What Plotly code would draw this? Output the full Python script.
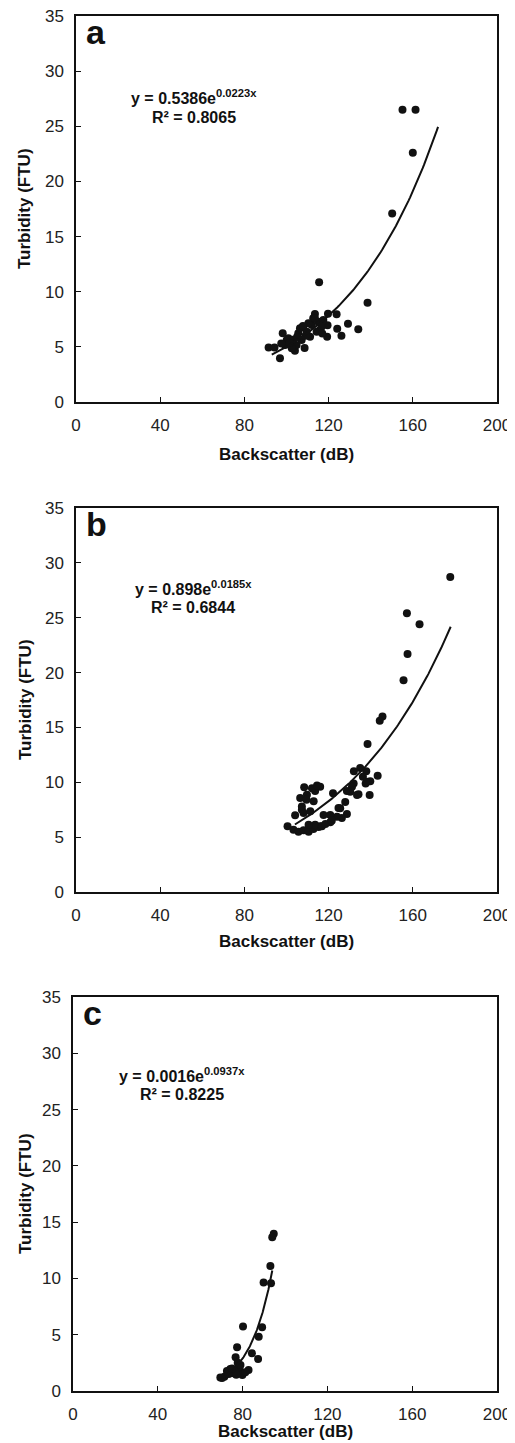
import numpy as np
import plotly.graph_objects as go

# the page puts the figure 8 px in from the top-left corner, so work in page pixels
PAD = 8
W, H = 507, 1435

# panel a
bs_a = [155.1, 161.3, 160.0, 150.2, 115.5, 138.5, 134.1, 129.2, 126.1, 124.1, 123.8, 119.7,
        119.5, 119.3, 113.5, 98.2, 91.5, 94.3, 96.9, 108.6, 104.0, 100.1, 101.7, 105.6,
        108.0, 109.6, 112.0, 112.7, 115.1, 115.9, 114.3, 111.2, 107.2, 104.8, 102.5, 99.3,
        100.9, 106.4, 110.4, 117.5, 116.7, 107.8, 103.0, 101.5, 113.5, 117.0, 109.0, 105.0, 97.5]
turb_a = [26.5, 26.5, 22.6, 17.1, 10.85, 9.0, 6.6, 7.1, 6.0, 6.65, 7.95, 8.0,
          6.95, 5.92, 7.98, 6.23, 4.95, 4.95, 3.96, 4.9, 4.65, 5.62, 5.32, 6.23,
          6.83, 6.38, 6.98, 7.59, 7.28, 6.53, 6.38, 5.92, 5.62, 5.17, 4.87, 5.17,
          5.77, 6.68, 7.13, 7.43, 6.83, 6.9, 5.65, 5.35, 7.6, 6.2, 6.0, 5.9, 5.3]

# panel b
bs_b = [177.8, 157.2, 163.2, 157.5, 155.6, 145.6, 144.3, 138.5, 143.3, 139.5, 139.8, 137.6,
        137.9, 135.0, 132.0, 134.2, 131.9, 130.3, 128.7, 127.9, 125.5, 128.7, 126.3, 124.0,
        124.7, 122.1, 120.8, 120.8, 117.6, 116.0, 116.0, 113.6, 112.1, 108.4, 109.7, 106.5,
        107.3, 108.1, 104.1, 111.3, 112.9, 100.5, 103.3, 105.7, 108.1, 110.5, 112.8, 115.2,
        113.6, 110.5, 116.8, 136.3, 133.5, 138.2, 131.1, 118.5, 121.5, 109.5, 107.3, 114.5]
turb_b = [28.7, 25.4, 24.4, 21.7, 19.3, 16.0, 15.6, 13.5, 10.6, 8.85, 10.1, 9.9,
          11.0, 11.3, 11.0, 8.9, 9.9, 9.14, 9.2, 8.2, 7.63, 7.1, 6.75, 6.86,
          7.66, 9.0, 7.02, 6.35, 7.02, 6.0, 9.6, 9.2, 9.45, 9.54, 8.87, 8.57,
          7.5, 7.2, 7.0, 7.35, 8.27, 5.99, 5.68, 5.5, 5.62, 5.5, 5.74, 5.93,
          6.14, 6.14, 6.0, 10.5, 8.84, 10.05, 9.6, 6.2, 6.5, 8.4, 7.8, 9.7]

# panel c
bs_c = [94.7, 94.0, 93.1, 89.9, 93.4, 89.2, 80.2, 87.6, 87.3, 84.4, 77.4, 76.7, 77.7,
        82.8, 79.9, 75.8, 74.2, 72.6, 71.4, 69.5, 70.3, 78.6, 81.3, 78.2, 76.5, 73.5,
        77.0, 79.0, 75.0]
turb_c = [13.96, 13.66, 11.1, 9.63, 9.57, 5.66, 5.72, 4.83, 2.85, 3.35, 3.88, 2.99, 2.52,
          1.87, 1.42, 1.57, 1.96, 1.78, 1.27, 1.19, 1.16, 1.87, 1.66, 2.16, 1.7, 1.5,
          1.45, 2.3, 2.0]

# exponential fits y = k*exp(r*x) as printed on the chart, and x span of each fit line
fit_k = [0.5386, 0.898, 0.0016]
fit_r = [0.0223, 0.0185, 0.0937]
fit_span = [(93, 172), (104, 178), (70, 94)]
eq_text = ["y = 0.5386e<sup>0.0223x</sup>", "y = 0.898e<sup>0.0185x</sup>", "y = 0.0016e<sup>0.0937x</sup>"]
r2_text = ["R² = 0.8065", "R² = 0.6844", "R² = 0.8225"]
panel_tag = ["a", "b", "c"]

xticks = [0, 40, 80, 120, 160, 200]
yticks = [0, 5, 10, 15, 20, 25, 30, 35]

# page-pixel boxes of each panel: left, right, top, bottom
boxes = [(76, 497, 16, 402), (76, 497, 508, 892), (73, 497, 997, 1391)]
xtitle_y = [454, 942, 1431]
eq_pos = [(194, 97, 117), (193, 588, 607), (182, 1075, 1094)]

FONT = "Arial, Liberation Sans, sans-serif"
INK = "#111111"


def px(x):
    return (x - PAD) / W


def py(y):
    return 1 - (y - PAD) / H


fig = go.Figure()
series = [(bs_a, turb_a), (bs_b, turb_b), (bs_c, turb_c)]
layout = {}
annotations = []


def note(x, y, text, size, **kw):
    annotations.append(dict(x=px(x), y=py(y), xref="paper", yref="paper", text=text,
                            showarrow=False, font=dict(family=FONT, size=size, color=INK), **kw))


for i, (xs, ys) in enumerate(series):
    n = "" if i == 0 else str(i + 1)
    xa, ya = "x" + n, "y" + n
    fig.add_trace(go.Scatter(x=xs, y=ys, mode="markers", xaxis=xa, yaxis=ya,
                             marker=dict(color=INK, size=8), showlegend=False))
    lx = np.linspace(fit_span[i][0], fit_span[i][1], 120)
    fig.add_trace(go.Scatter(x=lx, y=fit_k[i] * np.exp(fit_r[i] * lx), mode="lines",
                             xaxis=xa, yaxis=ya, line=dict(color=INK, width=2),
                             showlegend=False))
    l, r, t, b = boxes[i]
    common = dict(showline=True, linecolor=INK, linewidth=1.5, mirror=True, automargin=False,
                  ticks="inside", ticklen=5, tickcolor=INK, showgrid=False,
                  zeroline=False, tickfont=dict(family=FONT, size=17, color="#222222"),
                  ticklabelstandoff=7, ticklabeloverflow="allow")
    layout["xaxis" + n] = dict(common, domain=[px(l), px(r)], range=[0, 200], tickvals=xticks,
                               anchor=ya)
    layout["yaxis" + n] = dict(common, domain=[py(b), py(t)], range=[0, 35], tickvals=yticks,
                               anchor=xa)
    note((l + r) / 2, xtitle_y[i], "<b>Backscatter (dB)</b>", 17, xanchor="center", yanchor="middle")
    note(25, (t + b) / 2, "<b>Turbidity (FTU)</b>", 17, xanchor="center", yanchor="middle",
         textangle=-90)
    note(l + 8, t + 16, "<b>" + panel_tag[i] + "</b>", 34, xanchor="left", yanchor="middle")
    ex, ey1, ey2 = eq_pos[i]
    note(ex, ey1, "<b>" + eq_text[i] + "</b>", 16, xanchor="center", yanchor="middle")
    note(ex, ey2, "<b>" + r2_text[i] + "</b>", 16, xanchor="center", yanchor="middle")

fig.update_layout(**layout)
fig.update_layout(width=W, height=H, margin=dict(l=0, r=0, t=0, b=0),
                  paper_bgcolor="white", plot_bgcolor="white", annotations=annotations)
fig.write_html("out.html")
